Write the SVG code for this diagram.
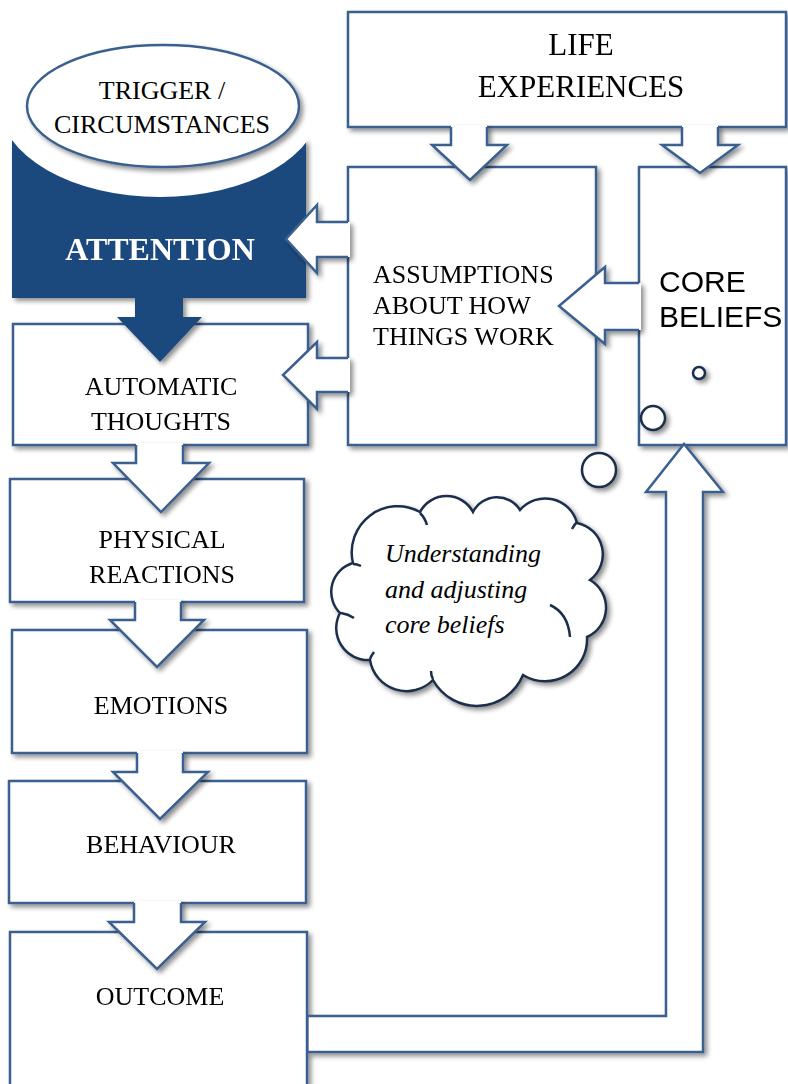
<svg xmlns="http://www.w3.org/2000/svg" width="788" height="1084" viewBox="0 0 788 1084">
<defs>
<filter id="sh" x="-20%" y="-20%" width="140%" height="140%">
<feGaussianBlur in="SourceAlpha" stdDeviation="2.5"/>
<feOffset dx="3" dy="3"/>
<feComponentTransfer><feFuncA type="linear" slope="0.45"/></feComponentTransfer>
<feMerge><feMergeNode/><feMergeNode in="SourceGraphic"/></feMerge>
</filter>
<style>
.box{fill:#fff;stroke:#3A6090;stroke-width:2.5}
.af{fill:#fff;stroke:none}
.as{fill:none;stroke:#3A6090;stroke-width:2.5;stroke-linejoin:miter}
.t{font-family:"Liberation Serif","Times New Roman",serif;font-size:26px;fill:#000;text-anchor:middle}
.ts{font-family:"Liberation Sans",Arial,sans-serif;font-size:30px;fill:#000}
.ti{font-family:"Liberation Serif","Times New Roman",serif;font-size:26px;font-style:italic;fill:#000}
.bub{fill:#fff;stroke:#1B2F4C;stroke-width:2.5}
.cr{fill:none;stroke:#1B2F4C;stroke-width:2.5}
</style>
</defs>
<rect width="788" height="1084" fill="#fff"/>

<g id="life-experiences" filter="url(#sh)">
<rect class="box" x="348" y="12" width="438" height="115"/>
<text class="t" x="581" y="55" style="font-size:31px">LIFE</text>
<text class="t" x="581" y="97" style="font-size:31px">EXPERIENCES</text>
</g>

<g id="assumptions" filter="url(#sh)">
<rect class="box" x="348" y="167" width="248" height="278"/>
<text class="t" x="373" y="283" style="text-anchor:start">ASSUMPTIONS</text>
<text class="t" x="373" y="314" style="text-anchor:start">ABOUT HOW</text>
<text class="t" x="373" y="345" style="text-anchor:start">THINGS WORK</text>
</g>

<g id="core-beliefs" filter="url(#sh)">
<rect class="box" x="639" y="167" width="147" height="278"/>
<text class="ts" x="659" y="292">CORE</text>
<text class="ts" x="659" y="327">BELIEFS</text>
</g>

<g id="automatic-thoughts" filter="url(#sh)">
<rect class="box" x="13" y="324" width="295" height="121"/>
<text class="t" x="161" y="395">AUTOMATIC</text>
<text class="t" x="161" y="430">THOUGHTS</text>
</g>

<g id="attention" filter="url(#sh)">
<path d="M12,140 H306 V298 H183 V317 H202 L160,362 L117,317 H135 V298 H12 Z" fill="#1F497D"/>
<text class="t" x="160" y="260" style="font-size:32px;font-weight:bold;fill:#fff">ATTENTION</text>
</g>

<g id="trigger">
<ellipse cx="160" cy="105" rx="160" ry="92" fill="#fff"/>
<ellipse cx="163" cy="106" rx="136" ry="61" fill="#fff" stroke="#3A6090" stroke-width="2.5" filter="url(#sh)"/>
<text class="t" x="162" y="99">TRIGGER /</text>
<text class="t" x="162" y="133">CIRCUMSTANCES</text>
</g>

<g id="physical-reactions" filter="url(#sh)">
<rect class="box" x="10" y="479" width="294" height="123"/>
<text class="t" x="162" y="548">PHYSICAL</text>
<text class="t" x="162" y="583">REACTIONS</text>
</g>

<g id="emotions" filter="url(#sh)">
<rect class="box" x="12" y="630" width="295" height="123"/>
<text class="t" x="161" y="714">EMOTIONS</text>
</g>

<g id="behaviour" filter="url(#sh)">
<rect class="box" x="9" y="781" width="297" height="122"/>
<text class="t" x="161" y="853">BEHAVIOUR</text>
</g>

<g id="outcome" filter="url(#sh)">
<rect class="box" x="10" y="932" width="297" height="170"/>
<text class="t" x="160" y="1005">OUTCOME</text>
</g>

<g id="thought-bubbles" filter="url(#sh)">
<circle class="bub" cx="699" cy="373" r="6"/>
<circle class="bub" cx="653" cy="418" r="12"/>
<circle class="bub" cx="599" cy="470" r="17"/>
</g>

<g id="cloud">
<path class="bub" filter="url(#sh)" d="M340,613 A30,30 0 0 1 353,563 A46,46 0 0 1 420,512 A30,30 0 0 1 473,512 A27,27 0 0 1 520,510 A33,33 0 0 1 577,523 A32,32 0 0 1 590,580 A32,32 0 0 1 587,637 A42,42 0 0 1 523,675 A50,50 0 0 1 433,680 A37,37 0 0 1 370,660 A32,32 0 0 1 340,613 Z"/>
<path class="cr" d="M420,513 Q425,518 427,525"/>
<path class="cr" d="M577,522 Q574,525 572,529"/>
<path class="cr" d="M550,605 Q568,613 570,637"/>
<path class="cr" d="M433,679 Q431,676 431,671"/>
<path class="cr" d="M370,659 Q371,656 374,652"/>
<path class="cr" d="M341,613 Q348,614 354,618"/>
<path class="cr" d="M353,564 Q357,564 361,566"/>
<text class="ti" x="385" y="562">Understanding</text>
<text class="ti" x="385" y="598">and adjusting</text>
<text class="ti" x="385" y="633">core beliefs</text>
</g>

<g id="connectors">
<g filter="url(#sh)">
<path class="af" d="M451,125 H487 V145 H507 L470,180 L432,145 H451 Z"/>
<path class="as" d="M451,127 V145 H432 L470,180 L507,145 H487 V127"/>
</g>
<g filter="url(#sh)">
<path class="af" d="M682,125 H718 V145 H738 L700,173 L662,145 H682 Z"/>
<path class="as" d="M682,127 V145 H662 L700,173 L738,145 H718 V127"/>
</g>
<g filter="url(#sh)">
<path class="af" d="M350,222 H317 V205 L286,239 L317,273 V257 H350 Z"/>
<path class="as" d="M348,222 H317 V205 L286,239 L317,273 V257 H348"/>
</g>
<g filter="url(#sh)">
<path class="af" d="M350,358 H317 V342 L283,375 L317,409 V392 H350 Z"/>
<path class="as" d="M348,358 H317 V342 L283,375 L317,409 V392 H348"/>
</g>
<g filter="url(#sh)">
<path class="af" d="M641,283 H605 V267 L559,306 L605,344 V330 H641 Z"/>
<path class="as" d="M639,283 H605 V267 L559,306 L605,344 V330 H639"/>
</g>
<g filter="url(#sh)">
<path class="af" d="M136,443 H183 V463 H209 L161,512 L113,463 H136 Z"/>
<path class="as" d="M136,445 V463 H113 L161,512 L209,463 H183 V445"/>
</g>
<g filter="url(#sh)">
<path class="af" d="M135,600 H181 V620 H204 L157,667 L110,620 H135 Z"/>
<path class="as" d="M135,602 V620 H110 L157,667 L204,620 H181 V602"/>
</g>
<g filter="url(#sh)">
<path class="af" d="M137,751 H183 V772 H208 L160,819 L113,772 H137 Z"/>
<path class="as" d="M137,753 V772 H113 L160,819 L208,772 H183 V753"/>
</g>
<g filter="url(#sh)">
<path class="af" d="M134,901 H181 V922 H205 L157,969 L109,922 H134 Z"/>
<path class="as" d="M134,903 V922 H109 L157,969 L205,922 H181 V903"/>
</g>
<g filter="url(#sh)">
<path class="af" d="M309,1016 H666 V492 H646 L684,444 L723,492 H703 V1052 H309 Z"/>
<path class="as" d="M307,1016 H666 V492 H646 L684,444 L723,492 H703 V1052 H307"/>
</g>
</g>
</svg>
